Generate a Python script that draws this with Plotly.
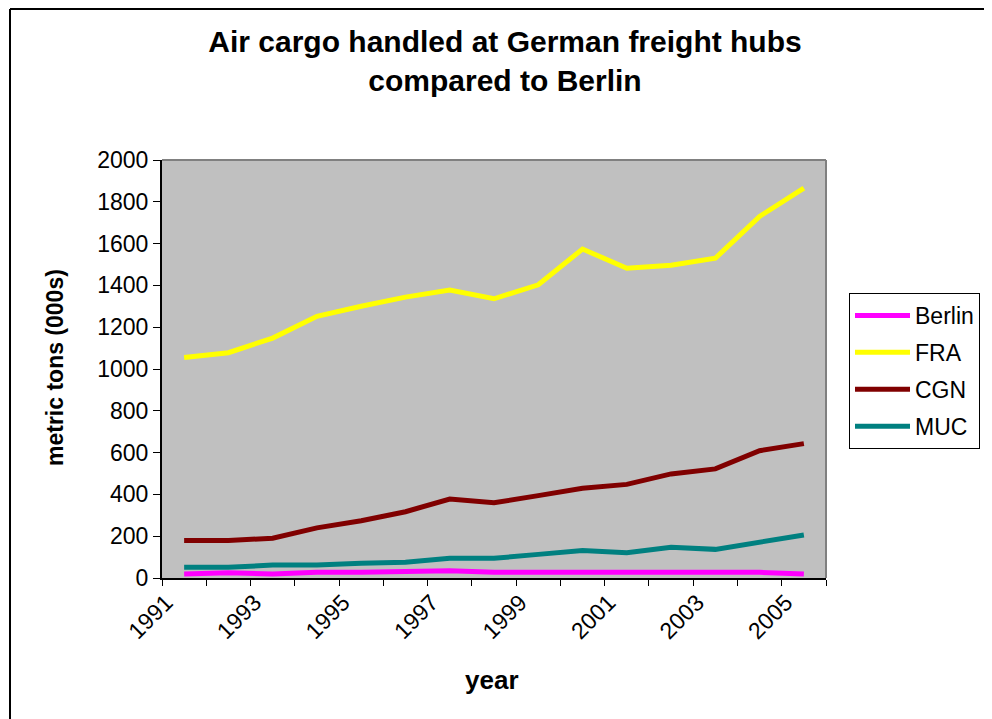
import plotly.graph_objects as go

years = list(range(1991, 2006))
berlin = [19, 25, 19, 28, 28, 33, 35, 27, 27, 27, 27, 27, 27, 27, 19]
fra = [1055, 1078, 1148, 1252, 1300, 1344, 1378, 1336, 1403, 1574, 1482, 1496, 1530, 1730, 1865]
cgn = [180, 180, 190, 240, 274, 317, 378, 360, 394, 429, 448, 498, 522, 609, 643]
muc = [51, 51, 62, 62, 70, 75, 94, 94, 113, 131, 121, 147, 137, 174, 206]

series_names = ["Berlin", "FRA", "CGN", "MUC"]
series_values = [berlin, fra, cgn, muc]
colors = ["#FF00FF", "#FFFF00", "#800000", "#008080"]

label_years = years[::2]
tick_labels = [str(y) for y in label_years]

FONT = "Arial, Liberation Sans, sans-serif"

fig = go.Figure()
for name, vals, col in zip(series_names, series_values, colors):
    fig.add_trace(go.Scatter(
        x=years, y=vals, name=name, mode="lines",
        line=dict(color=col, width=5),
        legendgroup=name,
    ))

OFF = 8  # page body margin
W, H = 992 - OFF, 719 - OFF
PL, PR, PT, PB = 162, 826, 160, 578  # plot area in screenshot coords
L, T = PL - OFF, PT - OFF
pw, ph = PR - PL, PB - PT
R, B = W - L - pw, H - T - ph

def px(x):
    return (x - PL) / pw

def py(y):
    return (PB - y) / ph

boundaries = [y - 0.5 for y in years] + [years[-1] + 0.5]

fig.update_layout(
    width=W, height=H,
    margin=dict(l=L, r=R, t=T, b=B),
    paper_bgcolor="white",
    plot_bgcolor="#C0C0C0",
    font=dict(family=FONT, color="black", size=22),
    title=dict(
        text="<b>Air cargo handled at German freight hubs<br>compared to Berlin</b>",
        x=(505 - OFF) / W, xref="container", xanchor="center",
        y=1 - 44 / H, yref="container", yanchor="top",
        font=dict(family=FONT, size=30, color="black"),
    ),
    xaxis=dict(
        range=[years[0] - 0.5, years[-1] + 0.5],
        tickmode="array", tickvals=label_years, ticktext=tick_labels,
        tickangle=-45, ticks="", showgrid=False, zeroline=False,
        showline=True, linecolor="black", linewidth=2,
        tickfont=dict(size=23), ticklabelshift=-18,
        minor=dict(tickmode="array", tickvals=boundaries, ticks="outside",
                   ticklen=6, tickcolor="black", tickwidth=1, showgrid=False),
    ),
    yaxis=dict(
        range=[0, 2000], dtick=200, tickmode="linear", tick0=0,
        ticks="outside", ticklen=7, tickcolor="black", tickwidth=1,
        showgrid=False, zeroline=False,
        showline=True, linecolor="black", linewidth=2,
        tickfont=dict(size=23),
    ),
    legend=dict(
        x=px(849), y=py(293), xanchor="left", yanchor="top",
        bordercolor="black", borderwidth=1, bgcolor="white",
        font=dict(size=23), tracegroupgap=4, itemwidth=55,
    ),
    showlegend=True,
    annotations=[
        dict(text="<b>metric tons (000s)</b>", xref="paper", yref="paper",
             x=px(55), y=py(368), textangle=-90, showarrow=False,
             xanchor="center", yanchor="middle", font=dict(size=23)),
        dict(text="<b>year</b>", xref="paper", yref="paper",
             x=px(492), y=py(680), showarrow=False,
             xanchor="center", yanchor="middle", font=dict(size=26)),
    ],
    shapes=[
        dict(type="line", xref="paper", yref="paper", x0=0, x1=1, y0=1, y1=1,
             line=dict(color="#808080", width=2)),
        dict(type="line", xref="paper", yref="paper", x0=1, x1=1, y0=0, y1=1,
             line=dict(color="#808080", width=2)),
        dict(type="line", xref="paper", yref="paper", x0=px(10), x1=px(1000),
             y0=py(9), y1=py(9), line=dict(color="black", width=2)),
        dict(type="line", xref="paper", yref="paper", x0=px(10), x1=px(10),
             y0=py(9), y1=py(730), line=dict(color="black", width=2)),
    ],
)

fig.write_html("out.html")
